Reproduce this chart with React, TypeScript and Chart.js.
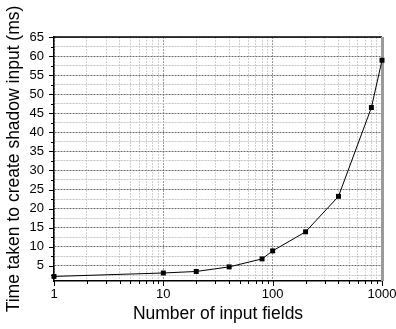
import React, { useEffect, useRef } from "react";
import { Chart, registerables } from "chart.js";

Chart.register(...registerables);

// ---- data ----
const fieldCounts = [1, 10, 20, 40, 80, 100, 200, 400, 800, 1000];
const timesMs = [2.2, 3.1, 3.5, 4.7, 6.8, 8.9, 13.9, 23.2, 46.5, 58.9];

// ---- ticks ----
const xDecades = [1, 10, 100, 1000];
const xMultipliers = [1, 2, 3, 4, 5, 6, 7, 8, 9];
const yTickLabels = [5, 10, 15, 20, 25, 30, 35, 40, 45, 50, 55, 60, 65];
const yMinorStep = 2.5;

const xTickValues: number[] = [];
xDecades.forEach((d, i) => {
  if (i === xDecades.length - 1) {
    xTickValues.push(d);
  } else {
    xMultipliers.forEach((m) => xTickValues.push(d * m));
  }
});
const yTickValues: number[] = [];
for (let v = yMinorStep; v <= yTickLabels[yTickLabels.length - 1] + 1e-9; v += yMinorStep) {
  yTickValues.push(Math.round(v * 10) / 10);
}

const isDecade = (v: number) => xDecades.includes(v);
const isYMajor = (v: number) => yTickLabels.includes(v);

const FONT = "'Liberation Sans', Arial, sans-serif";

const framePlugin = {
  id: "frame",
  beforeDatasetsDraw(chart: any) {
    const { ctx, chartArea: a, scales } = chart;
    const xs = scales.x;
    const ys = scales.y;
    ctx.save();
    ctx.strokeStyle = "#000";
    ctx.lineWidth = 1;
    ctx.setLineDash([]);
    // x tick marks
    xs.ticks.forEach((t: any) => {
      const px = Math.round(xs.getPixelForValue(t.value)) + 0.5;
      const len = isDecade(t.value) ? 5 : 3;
      ctx.beginPath();
      ctx.moveTo(px, a.bottom);
      ctx.lineTo(px, a.bottom + len);
      ctx.stroke();
    });
    // y tick marks
    ys.ticks.forEach((t: any) => {
      const py = Math.round(ys.getPixelForValue(t.value)) + 0.5;
      const len = isYMajor(t.value) ? 5 : 3;
      ctx.beginPath();
      ctx.moveTo(a.left, py);
      ctx.lineTo(a.left - len, py);
      ctx.stroke();
    });
    // top border
    ctx.lineWidth = 1.5;
    ctx.beginPath();
    ctx.moveTo(a.left, a.top);
    ctx.lineTo(a.right, a.top);
    ctx.stroke();
    // right border (gray)
    ctx.strokeStyle = "#9a9a9a";
    ctx.lineWidth = 3;
    ctx.beginPath();
    ctx.moveTo(a.right + 0.5, a.top);
    ctx.lineTo(a.right + 0.5, a.bottom);
    ctx.stroke();
    ctx.restore();
  },
};

export default function App() {
  const ref = useRef<HTMLCanvasElement>(null);

  useEffect(() => {
    if (!ref.current) return;
    const chart = new Chart(ref.current, {
      type: "line",
      data: {
        datasets: [
          {
            data: fieldCounts.map((x, i) => ({ x, y: timesMs[i] })),
            borderColor: "#000",
            backgroundColor: "#000",
            borderWidth: 1,
            pointStyle: "rect",
            pointRadius: 3.5,
            pointHoverRadius: 3.5,
            pointBorderWidth: 0,
            tension: 0,
            clip: false as any,
          },
        ],
      },
      options: {
        animation: false,
        responsive: false,
        events: [],
        layout: { padding: { top: 37, right: 14, left: 0, bottom: 0 } },
        plugins: {
          legend: { display: false },
          tooltip: { enabled: false },
        },
        scales: {
          x: {
            type: "logarithmic",
            min: 1,
            max: 1000,
            afterBuildTicks: (scale: any) => {
              scale.ticks = xTickValues.map((v) => ({ value: v }));
            },
            afterFit: (scale: any) => {
              scale.height = 48;
              scale.paddingRight = 0;
              scale.paddingLeft = 0;
            },
            ticks: {
              autoSkip: false,
              maxRotation: 0,
              padding: 6,
              color: "#000",
              font: { family: FONT, size: 13 },
              callback: (v: any) => (isDecade(Number(v)) ? String(v) : ""),
            },
            grid: {
              drawTicks: false,
              lineWidth: 1,
              color: (c: any) =>
                c.tick && isDecade(c.tick.value) ? "#9a9a9a" : "#cfcfcf",
            },
            border: {
              display: true,
              color: "#000",
              width: 1.5,
              dash: (c: any) => (c.tick ? [2, 1] : []),
            } as any,
            title: {
              display: true,
              text: "Number of input fields",
              color: "#000",
              font: { family: FONT, size: 17.5 },
              padding: { top: 0, bottom: 4.5 },
            },
          },
          y: {
            type: "linear",
            min: 1,
            max: 65,
            afterBuildTicks: (scale: any) => {
              scale.ticks = yTickValues.map((v) => ({ value: v }));
            },
            afterFit: (scale: any) => {
              scale.width = 54;
              scale.paddingTop = 0;
              scale.paddingBottom = 0;
            },
            ticks: {
              autoSkip: false,
              padding: 10,
              color: "#000",
              font: { family: FONT, size: 13 },
              callback: (v: any) => (isYMajor(Number(v)) ? String(v) : ""),
            },
            grid: {
              drawTicks: false,
              lineWidth: 1,
              color: (c: any) =>
                c.tick && isYMajor(c.tick.value) ? "#6e6e6e" : "#c4c4c4",
            },
            border: {
              display: true,
              color: "#000",
              width: 1.5,
              dash: (c: any) => (c.tick ? [2, 1] : []),
            } as any,
            title: {
              display: true,
              text: "Time taken to create shadow input (ms)",
              color: "#000",
              font: { family: FONT, size: 17.5 },
              padding: { top: 3.5, bottom: 0 },
            },
          },
        },
      },
      plugins: [framePlugin],
    });
    return () => chart.destroy();
  }, []);

  return (
    <div style={{ position: "absolute", left: 0, top: 0, width: 396, height: 329, background: "#fff" }}>
      <canvas ref={ref} width={396} height={329} />
    </div>
  );
}
